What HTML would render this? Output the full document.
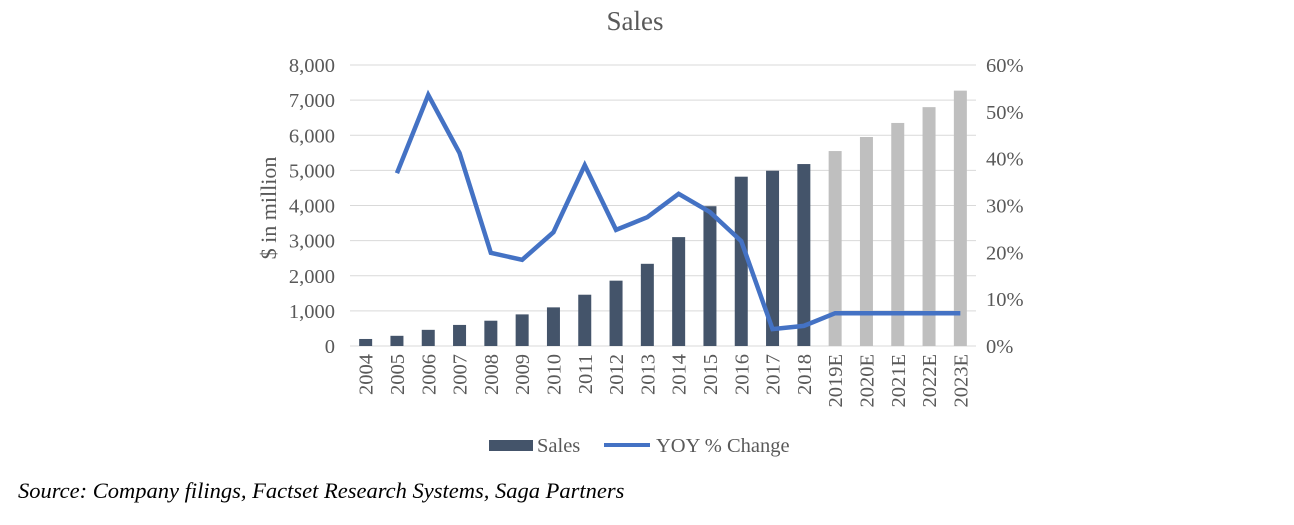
<!DOCTYPE html>
<html><head><meta charset="utf-8"><style>
body{margin:0;background:#fff;width:1294px;height:525px;overflow:hidden}
svg{display:block;font-family:"Liberation Serif",serif}
</style></head><body>
<svg id="c" width="1294" height="525">
<text x="635" y="30" text-anchor="middle" font-size="27" fill="#595959">Sales</text>
<text transform="translate(276,208) rotate(-90)" text-anchor="middle" font-size="22" fill="#595959">$ in million</text>
<g id="grid"></g><g id="bars"></g><g id="line"></g><g id="ticks"></g>
<g>
<rect x="489" y="440" width="44" height="11" fill="#44546a"/>
<text x="537" y="452" font-size="20.5" fill="#595959">Sales</text>
<line x1="604" y1="445" x2="650" y2="445" stroke="#4472c4" stroke-width="4"/>
<text x="656" y="452" font-size="20.5" fill="#595959">YOY % Change</text>
</g>
<text x="18" y="498" font-size="22.5" font-style="italic" fill="#000">Source: Company filings, Factset Research Systems, Saga Partners</text>
</svg>
<script>
const categories=["2004","2005","2006","2007","2008","2009","2010","2011","2012","2013","2014","2015","2016","2017","2018","2019E","2020E","2021E","2022E","2023E"];
const sales=[200,290,460,600,720,900,1100,1460,1860,2340,3100,3980,4820,4990,5180,5550,5950,6350,6800,7270];
const yoy=[null,36.9,53.6,41.2,19.9,18.4,24.3,38.6,24.8,27.5,32.5,28.6,22.4,3.6,4.3,7.0,7.0,7.0,7.0,7.0];
const leftTicks=[0,1000,2000,3000,4000,5000,6000,7000,8000];
const rightTicks=[0,10,20,30,40,50,60];
const ns="http://www.w3.org/2000/svg";
const X0=350,X1=976,Y0=346,Y1=65;
const step=(X1-X0)/categories.length;
const x=i=>X0+step*(i+0.5);
const yL=v=>Y0-(v/8000)*(Y0-Y1);
const yR=v=>Y0-(v/60)*(Y0-Y1);
function mk(t,a,p){const e=document.createElementNS(ns,t);for(const k in a)e.setAttribute(k,a[k]);p.appendChild(e);return e;}
const G=document.getElementById('grid'),B=document.getElementById('bars'),L=document.getElementById('line'),T=document.getElementById('ticks');
leftTicks.forEach(v=>{
 const g=mk('line',{x1:X0,x2:X1,y1:yL(v),y2:yL(v),stroke:'#d9d9d9','stroke-width':1},G);
 
 
 const t=mk('text',{x:335,y:yL(v)+7,'text-anchor':'end','font-size':20.5,fill:'#595959'},T);
 t.textContent=v.toLocaleString('en-US');
 
 
});
rightTicks.forEach(v=>{
 const t=mk('text',{x:986,y:yR(v)+7,'font-size':20.5,fill:'#595959'},T);
 t.textContent=v+'%';
 
 
});
categories.forEach((c,i)=>{
 const r=mk('rect',{x:x(i)-6.5,y:yL(sales[i]),width:13,height:Y0-yL(sales[i]),fill:c.endsWith('E')?'#bfbfbf':'#44546a'},B);
 
 
 const t=mk('text',{transform:`translate(${x(i)+7},354) rotate(-90)`,'text-anchor':'end','font-size':20.5,fill:'#595959'},T);
 t.textContent=c;
 
 
});
let d='';yoy.forEach((v,i)=>{if(v==null)return;d+=(d?'L':'M')+x(i)+' '+yR(v);});
const p=mk('path',{d:d,fill:'none',stroke:'#4472c4','stroke-width':4.5,'stroke-linejoin':'miter'},L);


</script>
</body></html>
